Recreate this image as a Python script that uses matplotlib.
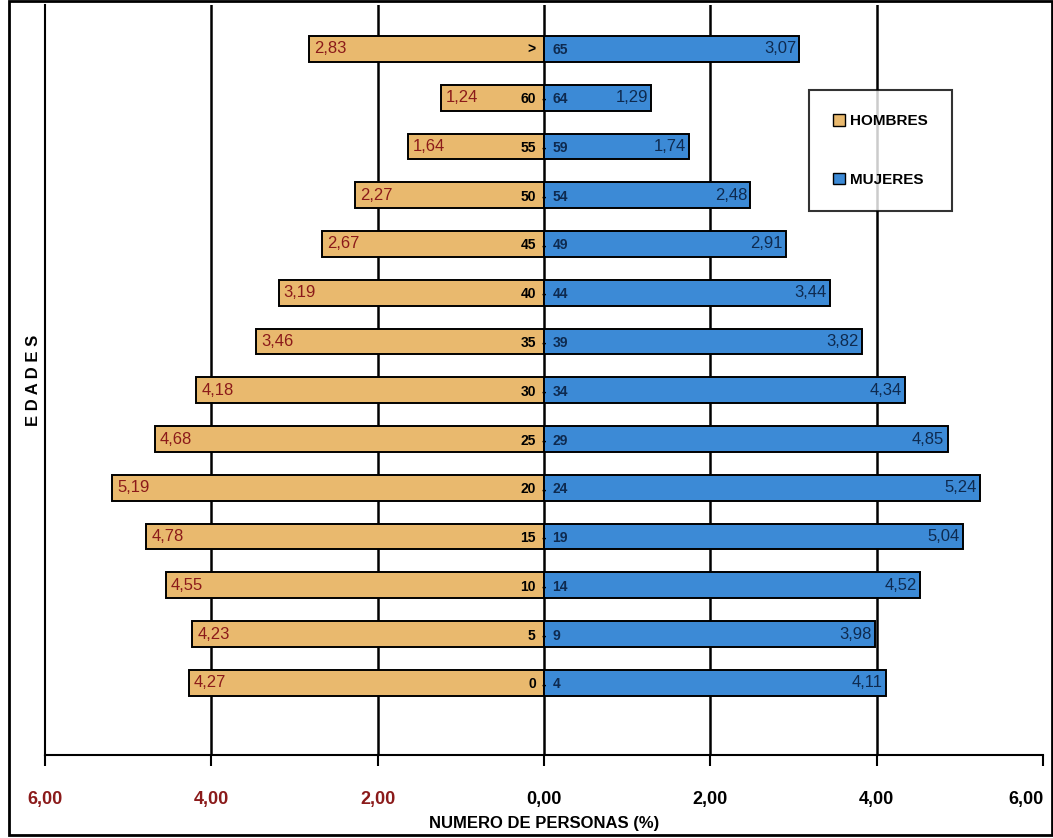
import numpy as np
import matplotlib
matplotlib.use("Agg")
import matplotlib.pyplot as plt
from matplotlib.patches import Patch, Rectangle

plt.rcParams['font.family'] = ['Liberation Sans Narrow', 'Liberation Sans', 'DejaVu Sans']

# age groups, bottom to top
age_low = ["0", "5", "10", "15", "20", "25", "30", "35", "40", "45", "50", "55", "60", ">"]
age_high = ["4", "9", "14", "19", "24", "29", "34", "39", "44", "49", "54", "59", "64", "65"]
hombres = [4.27, 4.23, 4.55, 4.78, 5.19, 4.68, 4.18, 3.46, 3.19, 2.67, 2.27, 1.64, 1.24, 2.83]
mujeres = [4.11, 3.98, 4.52, 5.04, 5.24, 4.85, 4.34, 3.82, 3.44, 2.91, 2.48, 1.74, 1.29, 3.07]
xticks = [-6, -4, -2, 0, 2, 4, 6]

orange = "#E9B96E"
blue = "#3C8AD6"
darkred = "#8B1A1A"

fig = plt.figure(figsize=(10.53, 8.38), dpi=100)
ax = fig.add_axes([0.0427, 0.099, 0.948, 0.895])

y = np.arange(len(age_low))
h = 0.53

# vertical grid behind bars
for xv in [-4, -2, 0, 2, 4]:
    ax.axvline(xv, color="black", lw=1.8, zorder=0)

ax.barh(y, [-v for v in hombres], height=h, color=orange, edgecolor="black", lw=1.4, zorder=2)
ax.barh(y, mujeres, height=h, color=blue, edgecolor="black", lw=1.4, zorder=2)

# value labels
for i in range(len(y)):
    ax.text(-hombres[i] + 0.06, y[i], f"{hombres[i]:.2f}".replace(".", ","),
            ha="left", va="center", fontsize=12, color=darkred, zorder=3)
    ax.text(mujeres[i] - 0.04, y[i], f"{mujeres[i]:.2f}".replace(".", ","),
            ha="right", va="center", fontsize=12, color="#0E2A4F", zorder=3)
    # age labels around the centre
    ax.text(-0.1, y[i] - 0.03, age_low[i], ha="right", va="center", fontsize=10,
            fontweight="bold", color="black", zorder=3)
    ax.text(0.1, y[i] - 0.03, age_high[i], ha="left", va="center", fontsize=10,
            fontweight="bold", color="#0E2A4F", zorder=3)
    if age_low[i] != ">":
        ax.text(0, y[i] - 0.03, "-", ha="center", va="center", fontsize=10,
                fontweight="bold", color="black", zorder=3)

ax.set_xlim(-6, 6)
ax.set_ylim(-1.48, 13.9)
ax.set_xticks(xticks)
ax.set_xticklabels([f"{abs(v):.2f}".replace(".", ",") for v in xticks],
                   fontsize=13, fontweight="bold")
ticklabels = ax.get_xticklabels()
for lbl, v in zip(ticklabels, xticks):
    if v < 0:
        lbl.set_color(darkred)
ticklabels[-1].set_horizontalalignment("right")
ax.tick_params(axis="x", length=8, width=1.5, pad=18, direction="out")
ax.set_yticks([])
for s in ["top", "right"]:
    ax.spines[s].set_visible(False)
ax.spines["left"].set_linewidth(1.5)
ax.spines["bottom"].set_linewidth(1.5)

ax.set_xlabel("NUMERO DE PERSONAS (%)", fontsize=12, fontweight="bold", labelpad=6)
ax.set_ylabel("E D A D E S", fontsize=12, fontweight="bold", labelpad=3)

handles = [Patch(facecolor=orange, edgecolor="black", label="HOMBRES"),
           Patch(facecolor=blue, edgecolor="black", label="MUJERES")]
leg = ax.legend(handles=handles, loc="upper left", bbox_to_anchor=(0.765, 0.887),
                fontsize=11, frameon=True, fancybox=False, edgecolor="black",
                handlelength=0.8, handleheight=0.8, labelspacing=2.9,
                borderpad=1.6, handletextpad=0.3, borderaxespad=0)
leg.get_frame().set_linewidth(1.5)
for t in leg.get_texts():
    t.set_fontweight("bold")

# outer frame of the picture
fig.patches.append(Rectangle((0.009, 0.003), 0.99, 0.996, transform=fig.transFigure,
                             fill=False, edgecolor="black", lw=2))

fig.savefig("out.png", dpi=100)
